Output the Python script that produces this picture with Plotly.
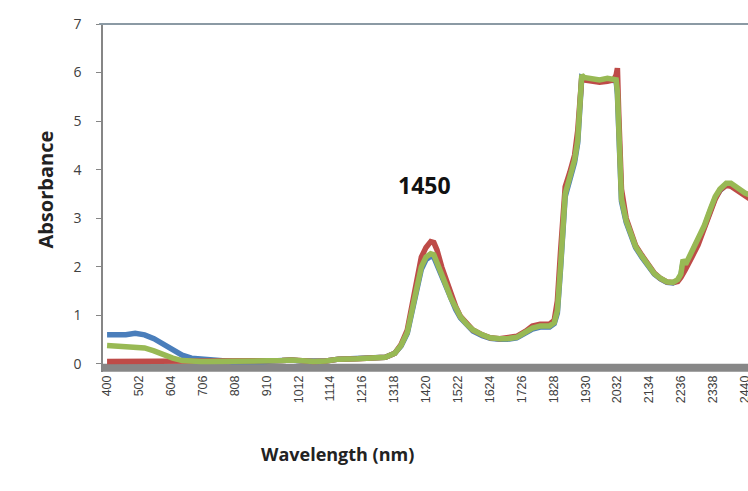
import plotly.graph_objects as go

# Wavelength grid (nm)
wavelength = [400, 430, 460, 490, 520, 550, 580, 610, 640, 670, 700, 730, 800, 900, 960, 990,
              1020, 1060, 1100, 1140, 1200, 1260, 1290, 1320, 1340, 1360, 1375, 1390, 1405, 1420,
              1435, 1445, 1455, 1470, 1485, 1500, 1515, 1530, 1550, 1570, 1600, 1625, 1655, 1680,
              1710, 1740, 1760, 1785, 1815, 1830, 1840, 1850, 1865, 1880, 1895, 1905, 1912, 1918,
              1925, 1950, 1975, 2000, 2020, 2028, 2032, 2036, 2045, 2060, 2075, 2090, 2110, 2130,
              2150, 2170, 2190, 2210, 2225, 2235, 2242, 2250, 2270, 2290, 2310, 2330, 2345, 2360,
              2380, 2395, 2410, 2425, 2440, 2455]

green_abs = [0.38, 0.37, 0.37, 0.36, 0.33, 0.27, 0.19, 0.12, 0.07, 0.05, 0.05, 0.05, 0.05, 0.05, 0.07, 0.08,
             0.06, 0.05, 0.06, 0.10, 0.11, 0.12, 0.14, 0.22, 0.38, 0.65, 1.10, 1.60, 2.00, 2.20,
             2.27, 2.25, 2.10, 1.85, 1.60, 1.35, 1.15, 0.97, 0.82, 0.70, 0.60, 0.54, 0.52, 0.52,
             0.55, 0.65, 0.74, 0.78, 0.78, 0.85, 1.10, 2.00, 3.50, 3.85, 4.20, 4.60, 5.40, 5.95,
             5.90, 5.88, 5.85, 5.88, 5.85, 5.85, 5.60, 4.60, 3.40, 2.95, 2.65, 2.42, 2.22, 2.02,
             1.86, 1.76, 1.69, 1.68, 1.74, 1.85, 2.15, 2.05, 2.30, 2.55, 2.85, 3.20, 3.45, 3.60,
             3.72, 3.72, 3.65, 3.58, 3.52, 3.48]

red_abs = [0.05, 0.05, 0.05, 0.05, 0.05, 0.05, 0.05, 0.05, 0.05, 0.05, 0.05, 0.05, 0.05, 0.05, 0.07, 0.08,
           0.06, 0.05, 0.06, 0.10, 0.11, 0.12, 0.14, 0.22, 0.40, 0.70, 1.20, 1.75, 2.20, 2.40,
           2.52, 2.50, 2.35, 2.00, 1.70, 1.42, 1.18, 0.98, 0.82, 0.70, 0.60, 0.54, 0.52, 0.53,
           0.57, 0.68, 0.78, 0.82, 0.82, 0.90, 1.30, 2.30, 3.65, 3.95, 4.30, 4.80, 5.60, 5.90,
           5.85, 5.82, 5.80, 5.82, 5.85, 5.95, 6.09, 5.20, 3.60, 3.00, 2.68, 2.44, 2.24, 2.03,
           1.87, 1.76, 1.69, 1.68, 1.70, 1.78, 1.85, 1.95, 2.20, 2.45, 2.80, 3.15, 3.40, 3.58,
           3.68, 3.66, 3.60, 3.52, 3.46, 3.40]

blue_abs = [0.60, 0.60, 0.60, 0.63, 0.60, 0.52, 0.40, 0.28, 0.18, 0.12, 0.10, 0.08, 0.05, 0.05, 0.07, 0.08,
            0.06, 0.05, 0.06, 0.10, 0.11, 0.12, 0.14, 0.22, 0.37, 0.63, 1.05, 1.55, 1.95, 2.15,
            2.22, 2.20, 2.05, 1.80, 1.55, 1.32, 1.12, 0.95, 0.80, 0.68, 0.58, 0.53, 0.51, 0.51,
            0.54, 0.63, 0.72, 0.76, 0.76, 0.83, 1.05, 1.95, 3.45, 3.80, 4.15, 4.55, 5.35, 5.90,
            5.88, 5.85, 5.83, 5.85, 5.83, 5.83, 5.55, 4.55, 3.35, 2.92, 2.62, 2.40, 2.20, 2.00,
            1.85, 1.75, 1.68, 1.67, 1.72, 1.82, 2.10, 2.02, 2.27, 2.52, 2.82, 3.17, 3.42, 3.57,
            3.69, 3.69, 3.62, 3.55, 3.49, 3.45]

gray_wavelength = [387, 800, 1200, 1600, 2000, 2460]
gray_abs = [-0.08, -0.08, -0.08, -0.08, -0.08, -0.08]

x_ticks = [400, 502, 604, 706, 808, 910, 1012, 1114, 1216, 1318, 1420, 1522, 1624, 1726,
           1828, 1930, 2032, 2134, 2236, 2338, 2440]
y_ticks = [0, 1, 2, 3, 4, 5, 6, 7]

peak_label = "1450"
peak_label_pos = (1414, 3.69)

fig = go.Figure()
fig.add_trace(go.Scatter(x=gray_wavelength, y=gray_abs, mode="lines",
                         line=dict(color="#878787", width=8), hoverinfo="skip"))
fig.add_trace(go.Scatter(x=wavelength, y=blue_abs, mode="lines",
                         line=dict(color="#4a7ebb", width=5.5)))
fig.add_trace(go.Scatter(x=wavelength, y=red_abs, mode="lines",
                         line=dict(color="#be4b48", width=5.5)))
fig.add_trace(go.Scatter(x=wavelength, y=green_abs, mode="lines",
                         line=dict(color="#98b954", width=5.5)))

fig.add_annotation(x=peak_label_pos[0], y=peak_label_pos[1], text="<b>" + peak_label + "</b>",
                   showarrow=False, font=dict(family="Open Sans", size=23, color="#111111"))

fig.add_annotation(xref="paper", yref="paper", x=0.364, y=-0.276, text="<b>Wavelength (nm)</b>",
                   showarrow=False, font=dict(family="Open Sans", size=18, color="#222222"))
fig.add_annotation(xref="paper", yref="paper", x=-0.113, y=0.523, text="<b>Absorbance</b>",
                   textangle=-90, showarrow=False,
                   font=dict(family="Open Sans", size=20, color="#222222"))

fig.add_shape(type="line", xref="paper", yref="paper", x0=-0.006, x1=1, y0=1, y1=1,
              line=dict(color="#8b9aa4", width=2))

fig.update_layout(
    width=748, height=491,
    margin=dict(l=103, r=0, t=24, b=119, autoexpand=False),
    paper_bgcolor="white", plot_bgcolor="white",
    showlegend=False,
    xaxis=dict(range=[387, 2449.6], tickvals=x_ticks, ticktext=[str(v) for v in x_ticks],
               tickangle=-90, showgrid=False, zeroline=False, showline=False, ticks="",
               automargin=False, ticklabeloverflow="allow",
               tickfont=dict(family="Liberation Sans", size=12.5, color="#404040")),
    yaxis=dict(range=[-0.165, 7.0], tickvals=y_ticks, showgrid=False, zeroline=False,
               showline=True, linecolor="#868686", linewidth=1.5, ticks="outside",
               ticklen=5, tickcolor="#868686", automargin=False, ticklabelstandoff=12,
               tickfont=dict(family="Open Sans", size=14, color="#404040")),
)

fig.write_html("out.html", config={"displayModeBar": False},
               post_script="document.body.style.margin='0';document.body.style.overflow='hidden';")
